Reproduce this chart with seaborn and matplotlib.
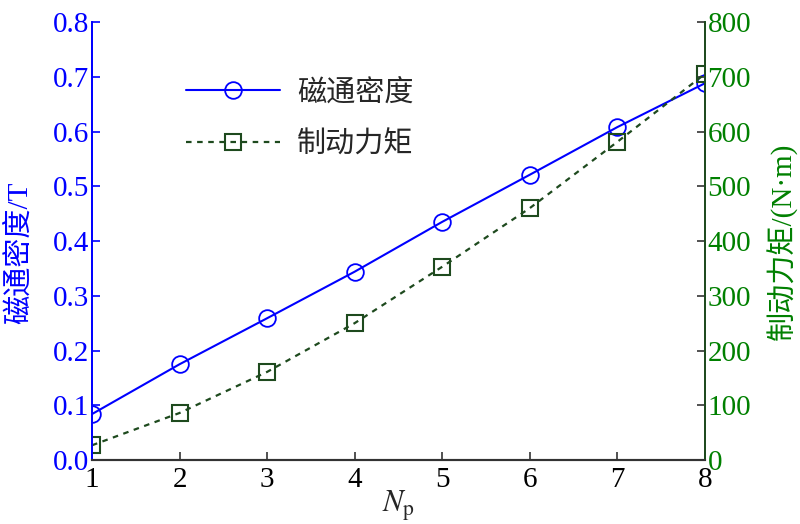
import matplotlib
matplotlib.use("Agg")
import matplotlib.pyplot as plt
import seaborn as sns
import pandas as pd
from matplotlib.ticker import FormatStrFormatter

# 数据
np_vals = [1, 2, 3, 4, 5, 6, 7, 8]
flux = [0.084, 0.175, 0.259, 0.344, 0.435, 0.521, 0.608, 0.688]
torque = [27, 86, 161, 250, 353, 460, 581, 705]
left_ticks = [0.0, 0.1, 0.2, 0.3, 0.4, 0.5, 0.6, 0.7, 0.8]
right_ticks = [0, 100, 200, 300, 400, 500, 600, 700, 800]

df = pd.DataFrame({"Np": np_vals, "flux": flux, "torque": torque})

sns.set_style("ticks")
plt.rcParams['font.family'] = ['Liberation Serif', 'Noto Sans CJK SC']
plt.rcParams['mathtext.fontset'] = 'stix'

blue = "#0000ff"
dgreen = "#1e4a1e"
tgreen = "#008000"

fig = plt.figure(figsize=(8, 5.24), dpi=100)
ax = fig.add_axes([0.115, 0.122, 0.766, 0.836])
ax2 = ax.twinx()

sns.lineplot(data=df, x="Np", y="flux", ax=ax, color=blue, lw=1.5,
             marker="o", markersize=12, markerfacecolor="none",
             markeredgecolor=blue, markeredgewidth=1.3, legend=False)
sns.lineplot(data=df, x="Np", y="torque", ax=ax2, color=dgreen, lw=1.6,
             linestyle=(0, (2.5, 2.5)), marker="s", markersize=11,
             markerfacecolor="none", markeredgecolor=dgreen,
             markeredgewidth=1.5, legend=False)

ax.set_xlim(1, 8)
ax.set_ylim(0, 0.8)
ax2.set_ylim(0, 800)
ax.set_xticks(np_vals)
ax.set_yticks(left_ticks)
ax2.set_yticks(right_ticks)
ax.yaxis.set_major_formatter(FormatStrFormatter('%.1f'))

for a in (ax, ax2):
    a.tick_params(direction='in', length=6, width=1.2, labelsize=21, pad=2)
ax.tick_params(axis='y', colors=blue, labelcolor=blue)
ax.tick_params(axis='x', colors='#333333', labelcolor='black', pad=5)
ax2.tick_params(axis='y', colors='#333333', labelcolor=tgreen)

for a in (ax, ax2):
    a.spines['top'].set_visible(False)
    a.spines['left'].set_color(blue)
    a.spines['right'].set_color(dgreen)
    a.spines['bottom'].set_color('#333333')
    a.spines['left'].set_linewidth(1.3)
    a.spines['right'].set_linewidth(1.3)
    a.spines['bottom'].set_linewidth(1.5)
    a.set_xlabel("")

ax.set_xlabel(r"$N_\mathrm{p}$", fontsize=22, labelpad=-3)
ax.set_ylabel("磁通密度/T", color=blue, fontsize=21)
ax2.set_ylabel("制动力矩/(N·m)", color=tgreen, fontsize=21)
ax.yaxis.set_label_coords(-0.097, 0.473)
ax2.yaxis.set_label_coords(1.101, 0.5)

handles = ax.get_lines()[:1] + ax2.get_lines()[:1]
ax.legend(handles, ["磁通密度", "制动力矩"], loc="upper left",
          bbox_to_anchor=(0.111, 0.93), frameon=False, fontsize=21,
          handlelength=3.2, labelspacing=0.85, handletextpad=0.6)

fig.savefig("out.png", dpi=100)
